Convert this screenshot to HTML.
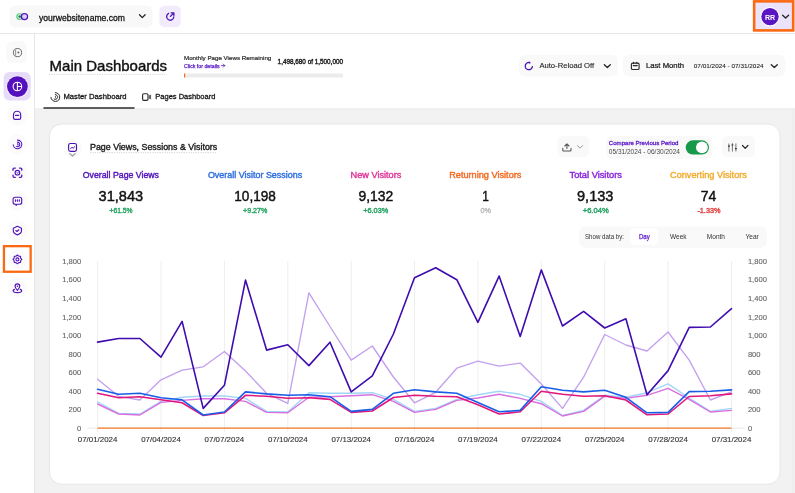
<!DOCTYPE html>
<html><head><meta charset="utf-8"><style>
html,body{margin:0;padding:0;background:#fff;width:795px;height:493px;overflow:hidden}
svg{display:block;font-family:"Liberation Sans", sans-serif;will-change:transform}
</style></head><body>
<svg width="795" height="493" viewBox="0 0 795 493">
<rect x="0" y="0" width="795" height="493" fill="#ffffff"/>
<rect x="34.5" y="108.5" width="760.5" height="384.5" fill="#f2f2f2"/>
<line x1="0" y1="33.5" x2="795" y2="33.5" stroke="#e6e6e8" stroke-width="1"/>
<line x1="34.5" y1="108.9" x2="795" y2="108.9" stroke="#ebebec" stroke-width="0.8"/>
<line x1="793.3" y1="109" x2="793.3" y2="493" stroke="#ebebec" stroke-width="0.8"/>
<line x1="34.5" y1="34" x2="34.5" y2="493" stroke="#e6e6e8" stroke-width="1"/>
<rect x="9.5" y="5.5" width="143" height="22" rx="6" fill="#f8f8f9"/>
<circle cx="19.7" cy="16.6" r="2.85" fill="#ffffff" stroke="#55c585" stroke-width="1.2"/>
<circle cx="19.7" cy="16.6" r="1.4" fill="#0f8a3a"/>
<circle cx="24.5" cy="16.6" r="3.05" fill="#f6efff" stroke="#5512c0" stroke-width="1.35"/>
<path d="M23.8 15 v3.2 M23.8 15 a1.6 1.6 0 0 1 0 3.2" fill="none" stroke="#c9a8f2" stroke-width="0.8"/>
<text x="39" y="20.6" font-size="9.2" fill="#141414" font-weight="normal" text-anchor="start" textLength="86" lengthAdjust="spacingAndGlyphs" stroke="#141414" stroke-width="0.3">yourwebsitename.com</text>
<path d="M139.5 14.8 L142.3 17.6 L145.1 14.8" fill="none" stroke="#222" stroke-width="1.3" stroke-linecap="round" stroke-linejoin="round"/>
<rect x="159.4" y="5.8" width="21.4" height="21.4" rx="5" fill="#f1ebfc"/>
<path d="M168.6 13.4 a3.6 3.6 0 1 0 5.2 3.6 M170.4 16.4 l3.4 -3.4 M171.2 12.9 h2.7 v2.7" fill="none" stroke="#4f14b6" stroke-width="1.3" stroke-linecap="round" stroke-linejoin="round"/>
<rect x="754.15" y="1.35" width="39.05" height="29.05" fill="#ebe3f9" stroke="#fb6a12" stroke-width="2.6"/>
<circle cx="770" cy="16.6" r="9.6" fill="#ffffff"/>
<circle cx="770" cy="16.6" r="8.7" fill="#5b14c2"/>
<text x="770" y="19.6" font-size="8.0" fill="#fff" font-weight="bold" text-anchor="middle" textLength="10.2" lengthAdjust="spacingAndGlyphs">RR</text>
<path d="M782.6 15.2 L785.6 18 L788.6 15.2" fill="none" stroke="#222" stroke-width="1.3" stroke-linecap="round" stroke-linejoin="round"/>
<rect x="6.2" y="41.2" width="20.8" height="22" rx="6" fill="#f9f9fa"/>
<circle cx="17.5" cy="52.6" r="4.1" fill="none" stroke="#6a6a6a" stroke-width="1"/>
<path d="M15.6 49.6 v6" stroke="#888" stroke-width="0.9"/>
<circle cx="18.4" cy="52.6" r="1" fill="#666"/>
<rect x="3.6" y="72.1" width="27.1" height="28.4" rx="6" fill="#e6dbf9"/>
<circle cx="17.4" cy="86.6" r="11.2" fill="#f4effd"/>
<circle cx="17.4" cy="86.6" r="10.4" fill="#5510bd"/>
<circle cx="17.4" cy="86.5" r="4.3" fill="none" stroke="#fff" stroke-width="1.1"/>
<path d="M17.4 82.2 v8.6 M17.4 86.5 h4.3" stroke="#fff" stroke-width="1.1"/>
<circle cx="17.4" cy="115.3" r="10.2" fill="#fbfbfc"/>
<circle cx="17.4" cy="144.3" r="10.2" fill="#fbfbfc"/>
<circle cx="17.4" cy="172.7" r="10.2" fill="#fbfbfc"/>
<circle cx="17.4" cy="200.8" r="10.2" fill="#fbfbfc"/>
<circle cx="17.4" cy="230.5" r="10.2" fill="#fbfbfc"/>
<circle cx="17.4" cy="259.4" r="10.2" fill="#fbfbfc"/>
<circle cx="17.4" cy="287.5" r="10.2" fill="#fbfbfc"/>
<path d="M13.5 117.8 V115.2 C13.5 112.8 15 111.2 17.1 111.2 C19.2 111.2 20.7 112.8 20.7 115.2 V117.8 a1.6 1.6 0 0 1 -1.6 1.6 h-4 a1.6 1.6 0 0 1 -1.6 -1.6 z M15.5 115.4 h3.2" fill="none" stroke="#5214bb" stroke-width="1.15" stroke-linejoin="round" stroke-linecap="round"/>
<path d="M17.50 140.10 A4.3 4.3 0 1 1 13.22 144.77 M17.50 142.10 A2.3 2.3 0 1 1 16.35 146.39 M17.50 143.80 A0.6 0.6 0 0 1 17.80 144.92" fill="none" stroke="#5214bb" stroke-width="1.05" stroke-linecap="round"/>
<path d="M13 170.3 v-1 a1.2 1.2 0 0 1 1.2 -1.2 h1.1 M19.5 168.1 h1.1 a1.2 1.2 0 0 1 1.2 1.2 v1 M21.8 175.1 v1 a1.2 1.2 0 0 1 -1.2 1.2 h-1.1 M15.3 177.3 h-1.1 a1.2 1.2 0 0 1 -1.2 -1.2 v-1" fill="none" stroke="#5214bb" stroke-width="1.3" stroke-linecap="round"/>
<circle cx="17.4" cy="172.7" r="2.3" fill="none" stroke="#5214bb" stroke-width="1.15"/>
<path d="M16.6 172.5 l0.8 0.9 l0.9 -1.3" fill="none" stroke="#5214bb" stroke-width="0.8"/>
<path d="M13.1 199.2 a2 2 0 0 1 2 -2 h4.6 a2 2 0 0 1 2 2 v3 a2 2 0 0 1 -2 2 h-2.4 l-1.2 1.2 v-1.2 h-1 a2 2 0 0 1 -2 -2 z M15.5 199.9 v1.3 M17.4 199.9 v1.3 M19.3 199.9 v1.3" fill="none" stroke="#5214bb" stroke-width="1.15" stroke-linecap="round" stroke-linejoin="round"/>
<path d="M17.4 226.3 L21.5 228.3 V230.8 C21.5 232.6 19.8 234.1 17.4 234.9 C15 234.1 13.3 232.6 13.3 230.8 V228.3 Z" fill="none" stroke="#5214bb" stroke-width="1.15" stroke-linejoin="round"/>
<path d="M15.8 230.6 l1.2 0.9 l1.9 -1.7" fill="none" stroke="#5214bb" stroke-width="1.2" stroke-linecap="round" stroke-linejoin="round"/>
<polygon points="17.40,255.00 18.74,256.17 20.51,256.29 20.63,258.06 21.80,259.40 20.63,260.74 20.51,262.51 18.74,262.63 17.40,263.80 16.06,262.63 14.29,262.51 14.17,260.74 13.00,259.40 14.17,258.06 14.29,256.29 16.06,256.17" fill="none" stroke="#5214bb" stroke-width="1.1" stroke-linejoin="round"/>
<circle cx="17.4" cy="259.4" r="1.5" fill="none" stroke="#5214bb" stroke-width="1.1"/>
<rect x="3.95" y="246.15" width="26.7" height="25.6" fill="none" stroke="#fb6a12" stroke-width="2.3"/>
<path d="M17.4 290.3 C16 288.8 15.1 287.6 15.1 286.2 a2.3 2.3 0 0 1 4.6 0 c0 1.4 -0.9 2.6 -2.3 4.1 z M14.5 289.4 C13.6 289.8 13.1 290.3 13.1 290.8 c0 1 1.9 1.8 4.3 1.8 s4.3 -0.8 4.3 -1.8 c0 -0.5 -0.5 -1 -1.4 -1.4" fill="none" stroke="#5214bb" stroke-width="1.15" stroke-linejoin="round" stroke-linecap="round"/>
<circle cx="17.4" cy="286.3" r="0.8" fill="#5214bb"/>
<text x="49.6" y="70.5" font-size="15.0" fill="#111" font-weight="normal" text-anchor="start" textLength="117.5" lengthAdjust="spacingAndGlyphs" stroke="#111" stroke-width="0.4">Main Dashboards</text>
<line x1="49" y1="74.3" x2="167" y2="74.3" stroke="#c8c8c8" stroke-width="0.8" stroke-dasharray="1.2 1.2"/>
<text x="184" y="60.1" font-size="6.0" fill="#2a2a2a" font-weight="normal" text-anchor="start" textLength="87.3" lengthAdjust="spacingAndGlyphs" stroke="#2a2a2a" stroke-width="0.2">Monthly Page Views Remaining</text>
<text x="184" y="67.5" font-size="5.9" fill="#5514c4" font-weight="normal" text-anchor="start" textLength="35.6" lengthAdjust="spacingAndGlyphs" stroke="#5514c4" stroke-width="0.25">Click for details</text>
<path d="M221.4 65.6 h3.4 M223.3 64.1 l1.5 1.5 l-1.5 1.5" fill="none" stroke="#5514c4" stroke-width="0.8" stroke-linecap="round" stroke-linejoin="round"/>
<text x="277.6" y="63.7" font-size="6.3" fill="#1a1a1a" font-weight="normal" text-anchor="start" textLength="65.4" lengthAdjust="spacingAndGlyphs" stroke="#1a1a1a" stroke-width="0.35">1,498,680 of 1,500,000</text>
<rect x="184" y="73.5" width="159" height="4" rx="1" fill="#ececed"/>
<rect x="184" y="73.5" width="1.2" height="4" fill="#f36d25"/>
<rect x="519" y="55" width="99" height="21.5" rx="6" fill="#f9f9fa"/>
<path d="M529.3 62.5 A3.6 3.6 0 1 0 532.4 66.6" fill="none" stroke="#4a10b4" stroke-width="1.3" stroke-linecap="round"/>
<circle cx="529.6" cy="62.7" r="0.9" fill="#4a10b4"/>
<text x="539.4" y="67.9" font-size="6.8" fill="#222" font-weight="normal" text-anchor="start" textLength="54.7" lengthAdjust="spacingAndGlyphs" stroke="#222" stroke-width="0.1">Auto-Reload Off</text>
<path d="M604.3 64.8 L607.3 67.6 L610.3 64.8" fill="none" stroke="#222" stroke-width="1.3" stroke-linecap="round" stroke-linejoin="round"/>
<rect x="623" y="54.7" width="162.3" height="22" rx="6" fill="#f9f9fa"/>
<rect x="631.4" y="63.1" width="7.7" height="6.4" rx="1.3" fill="none" stroke="#2a2a2a" stroke-width="1.15"/>
<path d="M633.2 65.6 h4.1 M633.6 62.2 v1.4 M636.8 62.2 v1.4" stroke="#2a2a2a" stroke-width="1.15" stroke-linecap="round"/>
<text x="645.9" y="68.0" font-size="6.9" fill="#1a1a1a" font-weight="normal" text-anchor="start" textLength="38.2" lengthAdjust="spacingAndGlyphs" stroke="#1a1a1a" stroke-width="0.22">Last Month</text>
<text x="693.8" y="67.8" font-size="6.2" fill="#222" font-weight="normal" text-anchor="start" textLength="69.7" lengthAdjust="spacingAndGlyphs" stroke="#222" stroke-width="0.08">07/01/2024 - 07/31/2024</text>
<path d="M771.3 64.8 L774.3 67.6 L777.3 64.8" fill="none" stroke="#222" stroke-width="1.3" stroke-linecap="round" stroke-linejoin="round"/>
<path d="M55.30 92.60 A4.4 4.4 0 1 1 50.92 97.38 M55.30 94.60 A2.4 2.4 0 1 1 54.10 99.08 M55.30 96.40 A0.6 0.6 0 0 1 55.60 97.52" fill="none" stroke="#2a2a2a" stroke-width="1.0" stroke-linecap="round"/>
<text x="63.4" y="99.3" font-size="7.4" fill="#151515" font-weight="normal" text-anchor="start" textLength="63.2" lengthAdjust="spacingAndGlyphs" stroke="#151515" stroke-width="0.28">Master Dashboard</text>
<line x1="43.5" y1="108" x2="134.5" y2="108" stroke="#2a2a2a" stroke-width="1.6"/>
<rect x="142.6" y="93.7" width="5.4" height="6.7" rx="1.3" fill="none" stroke="#2a2a2a" stroke-width="1.15"/>
<path d="M148.8 95.4 L151.1 94.4 V99.4 L148.8 98.4 Z" fill="#666"/>
<text x="155.3" y="99.3" font-size="7.4" fill="#151515" font-weight="normal" text-anchor="start" textLength="60.1" lengthAdjust="spacingAndGlyphs" stroke="#151515" stroke-width="0.28">Pages Dashboard</text>
<rect x="49.5" y="124" width="730.5" height="360.2" rx="12" fill="#ffffff" stroke="#e6e6e8" stroke-width="1"/>
<circle cx="72.6" cy="148.5" r="9.2" fill="#fafafb"/>
<rect x="68.6" y="143.5" width="7.9" height="7.8" rx="1.8" fill="none" stroke="#4c12b0" stroke-width="1.15"/>
<path d="M70.6 148.6 l1.4 -1.3 l1.2 0.9 l1.6 -1.5" fill="none" stroke="#4c12b0" stroke-width="1" stroke-linecap="round" stroke-linejoin="round"/>
<path d="M69.7 153.6 L72.5 156 L75.3 153.6" fill="none" stroke="#9a9a9a" stroke-width="1.2" stroke-linecap="round" stroke-linejoin="round"/>
<text x="90" y="149.9" font-size="8.4" fill="#1a1a1a" font-weight="normal" text-anchor="start" textLength="127.2" lengthAdjust="spacingAndGlyphs" stroke="#1a1a1a" stroke-width="0.35">Page Views, Sessions &amp; Visitors</text>
<line x1="90" y1="152.6" x2="217" y2="152.6" stroke="#c8c8c8" stroke-width="0.8" stroke-dasharray="1.2 1.2"/>
<rect x="557.4" y="136.1" width="31.9" height="21.1" rx="6" fill="#f9f9fa"/>
<path d="M566.9 144.2 v4.3 M564.8 146 L566.9 143.9 L569 146 M562.8 148.2 v2 a0.8 0.8 0 0 0 0.8 0.8 h6.6 a0.8 0.8 0 0 0 0.8 -0.8 v-2" fill="none" stroke="#555" stroke-width="1.1" stroke-linecap="round" stroke-linejoin="round"/>
<path d="M577.4 145.6 L580 148.2 L582.6 145.6" fill="none" stroke="#999" stroke-width="1" stroke-linecap="round" stroke-linejoin="round"/>
<rect x="606" y="136" width="106.5" height="22.7" rx="6" fill="#f9f9fa"/>
<text x="608.8" y="145.2" font-size="6.2" fill="#5b17c8" font-weight="normal" text-anchor="start" textLength="69.7" lengthAdjust="spacingAndGlyphs" stroke="#5b17c8" stroke-width="0.3">Compare Previous Period</text>
<text x="608.8" y="154.2" font-size="7.0" fill="#4a4a4a" font-weight="normal" text-anchor="start" textLength="71.2" lengthAdjust="spacingAndGlyphs" >05/31/2024 - 06/30/2024</text>
<rect x="685.7" y="140.3" width="23.3" height="14.2" rx="7.1" fill="#17994a"/>
<circle cx="701.9" cy="147.4" r="5.9" fill="#ffffff"/>
<rect x="722" y="136" width="33" height="21.2" rx="6" fill="#f9f9fa"/>
<path d="M728.9 143.5 v8 M732.4 143.2 v8.3 M735.9 143.5 v8" fill="none" stroke="#555" stroke-width="0.8"/><path d="M728 146.2 h1.8 M731.5 145 h1.8 M735 148.6 h1.8" fill="none" stroke="#333" stroke-width="1.2"/>
<path d="M742.5 145.5 L745.2 148.3 L747.9 145.5" fill="none" stroke="#222" stroke-width="1.2" stroke-linecap="round" stroke-linejoin="round"/>
<text x="82.8" y="178.1" font-size="8.7" fill="#4f12bd" font-weight="normal" text-anchor="start" textLength="76.2" lengthAdjust="spacingAndGlyphs" stroke="#4f12bd" stroke-width="0.4">Overall Page Views</text>
<text x="98.6" y="200.8" font-size="14.3" fill="#111" font-weight="normal" text-anchor="start" textLength="44.6" lengthAdjust="spacingAndGlyphs" stroke="#111" stroke-width="0.45">31,843</text>
<text x="109.6" y="212.5" font-size="7.1" fill="#27a564" font-weight="normal" text-anchor="start" textLength="23.0" lengthAdjust="spacingAndGlyphs" stroke="#27a564" stroke-width="0.4">+61.5%</text>
<text x="207.9" y="178.1" font-size="8.7" fill="#2f6fe0" font-weight="normal" text-anchor="start" textLength="94.3" lengthAdjust="spacingAndGlyphs" stroke="#2f6fe0" stroke-width="0.4">Overall Visitor Sessions</text>
<text x="234.3" y="200.8" font-size="14.3" fill="#111" font-weight="normal" text-anchor="start" textLength="41.5" lengthAdjust="spacingAndGlyphs" stroke="#111" stroke-width="0.45">10,198</text>
<text x="243" y="212.5" font-size="7.1" fill="#27a564" font-weight="normal" text-anchor="start" textLength="24.4" lengthAdjust="spacingAndGlyphs" stroke="#27a564" stroke-width="0.4">+9.27%</text>
<text x="350.6" y="178.1" font-size="8.7" fill="#e0369a" font-weight="normal" text-anchor="start" textLength="50.7" lengthAdjust="spacingAndGlyphs" stroke="#e0369a" stroke-width="0.4">New Visitors</text>
<text x="358.5" y="200.8" font-size="14.3" fill="#111" font-weight="normal" text-anchor="start" textLength="34.8" lengthAdjust="spacingAndGlyphs" stroke="#111" stroke-width="0.45">9,132</text>
<text x="363.2" y="212.5" font-size="7.1" fill="#27a564" font-weight="normal" text-anchor="start" textLength="25.1" lengthAdjust="spacingAndGlyphs" stroke="#27a564" stroke-width="0.4">+6.03%</text>
<text x="449.2" y="178.1" font-size="8.7" fill="#f26a22" font-weight="normal" text-anchor="start" textLength="72.2" lengthAdjust="spacingAndGlyphs" stroke="#f26a22" stroke-width="0.4">Returning Visitors</text>
<text x="482.3" y="200.8" font-size="14.3" fill="#111" font-weight="normal" text-anchor="start" textLength="6.6" lengthAdjust="spacingAndGlyphs" stroke="#111" stroke-width="0.45">1</text>
<text x="480.4" y="212.5" font-size="7.1" fill="#bbbbbb" font-weight="normal" text-anchor="start" textLength="10.4" lengthAdjust="spacingAndGlyphs" stroke="#bbbbbb" stroke-width="0.4">0%</text>
<text x="569.5" y="178.1" font-size="8.7" fill="#8a24dc" font-weight="normal" text-anchor="start" textLength="52.4" lengthAdjust="spacingAndGlyphs" stroke="#8a24dc" stroke-width="0.4">Total Visitors</text>
<text x="577" y="200.8" font-size="14.3" fill="#111" font-weight="normal" text-anchor="start" textLength="36.4" lengthAdjust="spacingAndGlyphs" stroke="#111" stroke-width="0.45">9,133</text>
<text x="582.7" y="212.5" font-size="7.1" fill="#27a564" font-weight="normal" text-anchor="start" textLength="26.0" lengthAdjust="spacingAndGlyphs" stroke="#27a564" stroke-width="0.4">+6.04%</text>
<text x="670" y="178.1" font-size="8.7" fill="#f2ad2e" font-weight="normal" text-anchor="start" textLength="76.9" lengthAdjust="spacingAndGlyphs" stroke="#f2ad2e" stroke-width="0.4">Converting Visitors</text>
<text x="700.7" y="200.8" font-size="14.3" fill="#111" font-weight="normal" text-anchor="start" textLength="15.5" lengthAdjust="spacingAndGlyphs" stroke="#111" stroke-width="0.45">74</text>
<text x="697.4" y="212.5" font-size="7.1" fill="#e24545" font-weight="normal" text-anchor="start" textLength="23.1" lengthAdjust="spacingAndGlyphs" stroke="#e24545" stroke-width="0.4">-1.33%</text>
<rect x="579" y="226.4" width="188" height="21.4" rx="6" fill="#f9f9fa"/>
<rect x="630" y="228.3" width="28" height="16.8" rx="5" fill="#ffffff"/>
<text x="585" y="238.8" font-size="6.4" fill="#333" font-weight="normal" text-anchor="start" textLength="39" lengthAdjust="spacingAndGlyphs" >Show data by:</text>
<text x="639" y="238.9" font-size="6.5" fill="#5b17c8" font-weight="normal" text-anchor="start" textLength="10.7" lengthAdjust="spacingAndGlyphs" stroke="#5b17c8" stroke-width="0.25">Day</text>
<text x="670" y="238.8" font-size="6.4" fill="#333" font-weight="normal" text-anchor="start" textLength="16.5" lengthAdjust="spacingAndGlyphs" >Week</text>
<text x="706.8" y="238.8" font-size="6.4" fill="#333" font-weight="normal" text-anchor="start" textLength="18.2" lengthAdjust="spacingAndGlyphs" >Month</text>
<text x="745.5" y="238.8" font-size="6.4" fill="#333" font-weight="normal" text-anchor="start" textLength="13.2" lengthAdjust="spacingAndGlyphs" >Year</text>
<line x1="97.6" y1="261" x2="97.6" y2="432" stroke="#eeeeef" stroke-width="1"/>
<line x1="161.0" y1="261" x2="161.0" y2="432" stroke="#eeeeef" stroke-width="1"/>
<line x1="224.4" y1="261" x2="224.4" y2="432" stroke="#eeeeef" stroke-width="1"/>
<line x1="287.8" y1="261" x2="287.8" y2="432" stroke="#eeeeef" stroke-width="1"/>
<line x1="351.2" y1="261" x2="351.2" y2="432" stroke="#eeeeef" stroke-width="1"/>
<line x1="414.5" y1="261" x2="414.5" y2="432" stroke="#eeeeef" stroke-width="1"/>
<line x1="477.9" y1="261" x2="477.9" y2="432" stroke="#eeeeef" stroke-width="1"/>
<line x1="541.3" y1="261" x2="541.3" y2="432" stroke="#eeeeef" stroke-width="1"/>
<line x1="604.7" y1="261" x2="604.7" y2="432" stroke="#eeeeef" stroke-width="1"/>
<line x1="668.1" y1="261" x2="668.1" y2="432" stroke="#eeeeef" stroke-width="1"/>
<line x1="731.5" y1="261" x2="731.5" y2="432" stroke="#eeeeef" stroke-width="1"/>
<line x1="87.5" y1="428.2" x2="97.6" y2="428.2" stroke="#e6e6e6" stroke-width="1"/>
<line x1="731.5" y1="428.2" x2="745" y2="428.2" stroke="#e6e6e6" stroke-width="1"/>
<text x="81.2" y="430.8" font-size="7.6" fill="#666" font-weight="normal" text-anchor="end" stroke="#666" stroke-width="0.12">0</text>
<text x="747.9" y="430.8" font-size="7.6" fill="#666" font-weight="normal" text-anchor="start" stroke="#666" stroke-width="0.12">0</text>
<text x="81.2" y="412.2" font-size="7.6" fill="#666" font-weight="normal" text-anchor="end" stroke="#666" stroke-width="0.12">200</text>
<text x="747.9" y="412.2" font-size="7.6" fill="#666" font-weight="normal" text-anchor="start" stroke="#666" stroke-width="0.12">200</text>
<text x="81.2" y="393.7" font-size="7.6" fill="#666" font-weight="normal" text-anchor="end" stroke="#666" stroke-width="0.12">400</text>
<text x="747.9" y="393.7" font-size="7.6" fill="#666" font-weight="normal" text-anchor="start" stroke="#666" stroke-width="0.12">400</text>
<text x="81.2" y="375.1" font-size="7.6" fill="#666" font-weight="normal" text-anchor="end" stroke="#666" stroke-width="0.12">600</text>
<text x="747.9" y="375.1" font-size="7.6" fill="#666" font-weight="normal" text-anchor="start" stroke="#666" stroke-width="0.12">600</text>
<text x="81.2" y="356.6" font-size="7.6" fill="#666" font-weight="normal" text-anchor="end" stroke="#666" stroke-width="0.12">800</text>
<text x="747.9" y="356.6" font-size="7.6" fill="#666" font-weight="normal" text-anchor="start" stroke="#666" stroke-width="0.12">800</text>
<text x="81.2" y="338.1" font-size="7.6" fill="#666" font-weight="normal" text-anchor="end" stroke="#666" stroke-width="0.12">1,000</text>
<text x="747.9" y="338.1" font-size="7.6" fill="#666" font-weight="normal" text-anchor="start" stroke="#666" stroke-width="0.12">1,000</text>
<text x="81.2" y="319.5" font-size="7.6" fill="#666" font-weight="normal" text-anchor="end" stroke="#666" stroke-width="0.12">1,200</text>
<text x="747.9" y="319.5" font-size="7.6" fill="#666" font-weight="normal" text-anchor="start" stroke="#666" stroke-width="0.12">1,200</text>
<text x="81.2" y="301.0" font-size="7.6" fill="#666" font-weight="normal" text-anchor="end" stroke="#666" stroke-width="0.12">1,400</text>
<text x="747.9" y="301.0" font-size="7.6" fill="#666" font-weight="normal" text-anchor="start" stroke="#666" stroke-width="0.12">1,400</text>
<text x="81.2" y="282.4" font-size="7.6" fill="#666" font-weight="normal" text-anchor="end" stroke="#666" stroke-width="0.12">1,600</text>
<text x="747.9" y="282.4" font-size="7.6" fill="#666" font-weight="normal" text-anchor="start" stroke="#666" stroke-width="0.12">1,600</text>
<text x="81.2" y="263.9" font-size="7.6" fill="#666" font-weight="normal" text-anchor="end" stroke="#666" stroke-width="0.12">1,800</text>
<text x="747.9" y="263.9" font-size="7.6" fill="#666" font-weight="normal" text-anchor="start" stroke="#666" stroke-width="0.12">1,800</text>
<text x="97.6" y="442.1" font-size="7.7" fill="#333" font-weight="normal" text-anchor="middle" textLength="39.6" lengthAdjust="spacingAndGlyphs" stroke="#333" stroke-width="0.12">07/01/2024</text>
<text x="161.0" y="442.1" font-size="7.7" fill="#333" font-weight="normal" text-anchor="middle" textLength="39.6" lengthAdjust="spacingAndGlyphs" stroke="#333" stroke-width="0.12">07/04/2024</text>
<text x="224.4" y="442.1" font-size="7.7" fill="#333" font-weight="normal" text-anchor="middle" textLength="39.6" lengthAdjust="spacingAndGlyphs" stroke="#333" stroke-width="0.12">07/07/2024</text>
<text x="287.8" y="442.1" font-size="7.7" fill="#333" font-weight="normal" text-anchor="middle" textLength="39.6" lengthAdjust="spacingAndGlyphs" stroke="#333" stroke-width="0.12">07/10/2024</text>
<text x="351.2" y="442.1" font-size="7.7" fill="#333" font-weight="normal" text-anchor="middle" textLength="39.6" lengthAdjust="spacingAndGlyphs" stroke="#333" stroke-width="0.12">07/13/2024</text>
<text x="414.5" y="442.1" font-size="7.7" fill="#333" font-weight="normal" text-anchor="middle" textLength="39.6" lengthAdjust="spacingAndGlyphs" stroke="#333" stroke-width="0.12">07/16/2024</text>
<text x="477.9" y="442.1" font-size="7.7" fill="#333" font-weight="normal" text-anchor="middle" textLength="39.6" lengthAdjust="spacingAndGlyphs" stroke="#333" stroke-width="0.12">07/19/2024</text>
<text x="541.3" y="442.1" font-size="7.7" fill="#333" font-weight="normal" text-anchor="middle" textLength="39.6" lengthAdjust="spacingAndGlyphs" stroke="#333" stroke-width="0.12">07/22/2024</text>
<text x="604.7" y="442.1" font-size="7.7" fill="#333" font-weight="normal" text-anchor="middle" textLength="39.6" lengthAdjust="spacingAndGlyphs" stroke="#333" stroke-width="0.12">07/25/2024</text>
<text x="668.1" y="442.1" font-size="7.7" fill="#333" font-weight="normal" text-anchor="middle" textLength="39.6" lengthAdjust="spacingAndGlyphs" stroke="#333" stroke-width="0.12">07/28/2024</text>
<text x="731.5" y="442.1" font-size="7.7" fill="#333" font-weight="normal" text-anchor="middle" textLength="39.6" lengthAdjust="spacingAndGlyphs" stroke="#333" stroke-width="0.12">07/31/2024</text>
<polyline points="97.6,402.0 118.7,413.4 139.9,414.0 161.0,401.4 182.1,397.3 203.2,396.0 224.4,396.0 245.5,398.4 266.6,411.4 287.8,412.0 308.9,392.7 330.0,393.3 351.2,393.3 372.3,392.7 393.4,399.4 414.5,411.4 435.7,408.4 456.8,399.4 477.9,394.7 499.1,391.3 520.2,394.3 541.3,401.4 562.5,415.5 583.6,410.4 604.7,395.3 625.9,397.3 647.0,392.7 668.1,383.9 689.2,398.0 710.4,411.4 731.5,408.4" fill="none" stroke="#a3d6f6" stroke-width="1.4" stroke-linejoin="round" stroke-linecap="round" opacity="1"/>
<polyline points="97.6,404.0 118.7,414.0 139.9,415.0 161.0,402.4 182.1,400.4 203.2,398.8 224.4,398.8 245.5,401.4 266.6,412.4 287.8,412.8 308.9,397.3 330.0,396.7 351.2,395.7 372.3,394.7 393.4,401.4 414.5,412.4 435.7,409.4 456.8,400.4 477.9,398.0 499.1,394.3 520.2,398.4 541.3,403.7 562.5,416.0 583.6,411.4 604.7,396.3 625.9,398.4 647.0,395.3 668.1,388.3 689.2,399.4 710.4,412.0 731.5,410.4" fill="none" stroke="#d870e0" stroke-width="1.4" stroke-linejoin="round" stroke-linecap="round" opacity="1"/>
<polyline points="97.6,379.2 118.7,396.3 139.9,400.0 161.0,379.8 182.1,370.2 203.2,366.8 224.4,351.5 245.5,371.0 266.6,393.3 287.8,403.4 308.9,292.8 330.0,326.5 351.2,360.1 372.3,346.0 393.4,377.0 414.5,402.8 435.7,392.3 456.8,368.2 477.9,361.1 499.1,366.2 520.2,363.1 541.3,384.0 562.5,408.4 583.6,377.2 604.7,334.5 625.9,345.0 647.0,351.0 668.1,332.0 689.2,360.1 710.4,400.0 731.5,391.9" fill="none" stroke="#c3a0ee" stroke-width="1.35" stroke-linejoin="round" stroke-linecap="round" opacity="1"/>
<polyline points="97.6,393.3 118.7,397.7 139.9,396.7 161.0,399.8 182.1,402.8 203.2,415.5 224.4,412.8 245.5,395.3 266.6,396.3 287.8,398.3 308.9,397.7 330.0,399.4 351.2,412.4 372.3,411.0 393.4,397.5 414.5,395.3 435.7,396.3 456.8,396.7 477.9,404.8 499.1,414.0 520.2,411.8 541.3,391.3 562.5,394.3 583.6,396.3 604.7,395.7 625.9,400.0 647.0,414.8 668.1,414.0 689.2,396.5 710.4,395.7 731.5,393.9" fill="none" stroke="#e0187c" stroke-width="1.6" stroke-linejoin="round" stroke-linecap="round" opacity="1"/>
<polyline points="97.6,389.3 118.7,394.3 139.9,393.3 161.0,397.7 182.1,399.8 203.2,415.0 224.4,412.0 245.5,391.9 266.6,393.9 287.8,395.3 308.9,394.7 330.0,396.7 351.2,411.4 372.3,409.4 393.4,393.3 414.5,389.7 435.7,391.9 456.8,393.3 477.9,402.4 499.1,411.8 520.2,410.4 541.3,386.7 562.5,390.3 583.6,391.9 604.7,390.3 625.9,397.3 647.0,412.8 668.1,412.4 689.2,391.6 710.4,391.3 731.5,389.9" fill="none" stroke="#1a5ee8" stroke-width="1.6" stroke-linejoin="round" stroke-linecap="round" opacity="1"/>
<polyline points="97.6,428.2 731.5,428.2" fill="none" stroke="#f07424" stroke-width="1.3"/>
<polyline points="97.6,342.1 118.7,338.5 139.9,338.5 161.0,357.1 182.1,321.4 203.2,408.4 224.4,385.3 245.5,280.1 266.6,350.1 287.8,344.8 308.9,365.6 330.0,342.2 351.2,391.9 372.3,375.8 393.4,334.0 414.5,277.7 435.7,267.7 456.8,279.7 477.9,322.4 499.1,276.1 520.2,336.5 541.3,269.9 562.5,326.0 583.6,311.3 604.7,328.0 625.9,318.8 647.0,394.7 668.1,370.6 689.2,327.4 710.4,327.0 731.5,308.7" fill="none" stroke="#3f0cae" stroke-width="1.6" stroke-linejoin="round" stroke-linecap="round" opacity="1"/>
</svg>
</body></html>
